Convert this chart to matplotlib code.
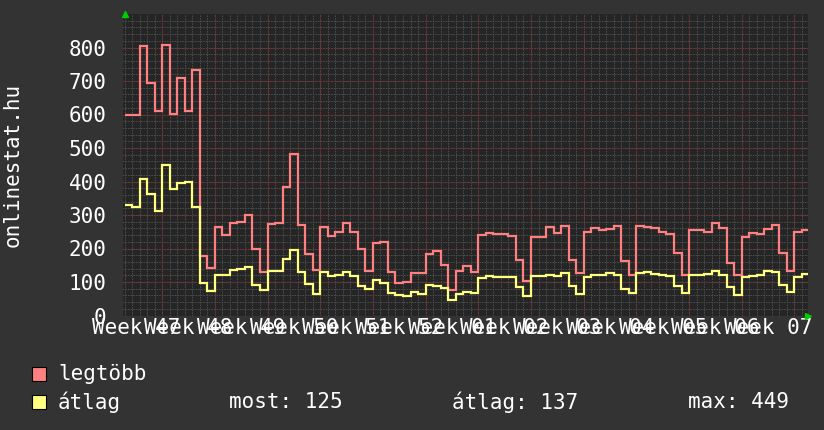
import numpy as np
import matplotlib
matplotlib.use("Agg")
import matplotlib.pyplot as plt
from matplotlib.patches import Rectangle

# ---- data (daily values) ----
legtobb = [600, 600, 805, 694, 610, 808, 602, 708, 610, 734,
           179, 142, 264, 239, 276, 279, 299, 199, 129, 272,
           275, 383, 481, 269, 184, 136, 264, 237, 249, 276,
           249, 199, 132, 216, 219, 129, 96, 99, 126, 126,
           184, 192, 151, 75, 132, 147, 129, 239, 246, 242,
           242, 236, 166, 104, 234, 234, 264, 246, 267, 166,
           126, 249, 260, 256, 259, 266, 164, 122, 266, 264,
           261, 249, 242, 186, 122, 254, 254, 249, 276, 262,
           156, 122, 234, 247, 244, 259, 269, 186, 132, 249,
           256]
atlag = [331, 325, 406, 363, 313, 449, 378, 395, 398, 325,
         96, 72, 121, 121, 136, 138, 144, 90, 75, 132,
         132, 169, 196, 129, 93, 65, 129, 119, 122, 129,
         118, 87, 78, 107, 96, 67, 62, 58, 70, 65,
         90, 88, 83, 45, 63, 70, 67, 112, 117, 115,
         115, 114, 85, 58, 117, 117, 121, 119, 126, 87,
         65, 116, 122, 122, 126, 122, 80, 67, 126, 129,
         124, 122, 119, 88, 67, 121, 122, 124, 132, 122,
         85, 62, 114, 119, 122, 132, 129, 92, 70, 116,
         125]
week_labels = ["Week 47", "Week 48", "Week 49", "Week 50", "Week 51", "Week 52",
               "Week 01", "Week 02", "Week 03", "Week 04", "Week 05", "Week 06", "Week 07"]
y_ticks = [0, 100, 200, 300, 400, 500, 600, 700, 800]
series_names = ["legtöbb", "átlag"]
stats_labels = ["most: 125", "átlag: 137", "max: 449"]

RED = "#ff8080"
YEL = "#ffff80"
BG = "#333333"
PLOT_BG = "#252525"
FONT = "DejaVu Sans Mono"
FS = 15

W, H = 824, 430
fig = plt.figure(figsize=(W / 100, H / 100), dpi=100, facecolor=BG)

def fx(px):
    return px / W

def fy(py):
    return 1 - py / H

left, right, top, bottom = 123, 808, 14, 315.5
ax = fig.add_axes([fx(left), fy(bottom), fx(right - left), (bottom - top) / H])
ax.set_facecolor(PLOT_BG)

n = len(legtobb)
edges = np.arange(n + 1)
ax.set_xlim(-0.2, 90.8)
ax.set_ylim(0, 900)

# grid
minor_c = "#4c4c4c"
major_c = "#6e3434"
ax.vlines(np.arange(0, n + 1), 0, 900, colors=minor_c, linestyles=(0, (1.5, 1)), lw=0.75, zorder=0)
ax.hlines(np.arange(20, 900, 20), -1, n + 1, colors=minor_c, linestyles=(0, (1.5, 1)), lw=0.75, zorder=0)
week_starts = np.arange(5, n + 1, 7)
ax.vlines(week_starts, 0, 900, colors=major_c, linestyles=(0, (1.5, 1)), lw=0.8, zorder=1)
ax.hlines(y_ticks[1:], -1, n + 1, colors=major_c, linestyles=(0, (1.5, 1)), lw=0.8, zorder=1)

ax.stairs(legtobb, edges, baseline=None, color=RED, lw=1.6, zorder=3)
ax.stairs(atlag, edges, baseline=None, color=YEL, lw=1.6, zorder=4)

for s in ax.spines.values():
    s.set_visible(False)

label_pos = np.arange(len(week_labels)) * 7 + 1.5
ax.set_xticks(label_pos, labels=week_labels)
ax.set_yticks(y_ticks, labels=[str(v) for v in y_ticks])
ax.tick_params(axis="x", length=0, pad=2, colors="white", labelsize=FS)
ax.tick_params(axis="y", length=0, pad=12, colors="white", labelsize=FS)
for lab in ax.get_xticklabels() + ax.get_yticklabels():
    lab.set_fontfamily(FONT)

# arrows
ax.plot([0.003], [1.0], marker="^", color="#00cc00", markersize=5, transform=ax.transAxes,
        clip_on=False, zorder=5)
ax.plot([1.0], [0.0], marker=">", color="#00cc00", markersize=5, transform=ax.transAxes,
        clip_on=False, zorder=5)

fig.text(fx(12.5), fy(165), "onlinestat.hu", rotation=90, color="white", fontsize=FS,
         family=FONT, ha="center", va="center")

# legend
colors = [RED, YEL]
rows = [374, 402]
for name, c, yc in zip(series_names, colors, rows):
    fig.patches.append(Rectangle((fx(32), fy(yc + 7)), 14 / W, 14 / H, transform=fig.transFigure,
                                 facecolor=c, edgecolor="black", lw=0.8))
    fig.text(fx(58), fy(yc), name, color="white", fontsize=FS, family=FONT, va="center", ha="left")
for txt, xs in zip(stats_labels, [229, 452, 688]):
    fig.text(fx(xs), fy(rows[1]), txt, color="white", fontsize=FS, family=FONT, va="center", ha="left")

fig.savefig("out.png", dpi=100, facecolor=BG)
